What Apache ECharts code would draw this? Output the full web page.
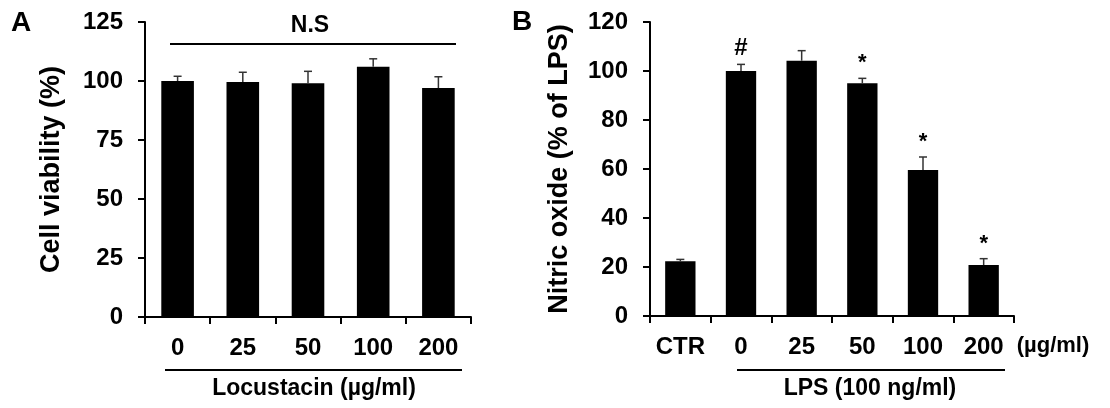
<!DOCTYPE html>
<html>
<head>
<meta charset="utf-8">
<script src="https://cdn.jsdelivr.net/npm/echarts@6/dist/echarts.min.js"></script>
<style>
  html, body { margin: 0; padding: 0; background: #fff; }
  #chart { width: 1110px; height: 408px; }
</style>
</head>
<body>
<div id="chart"></div>
<script>
// panel A - cell viability
const doseA = ["0", "25", "50", "100", "200"];
const viability = [100, 99.6, 99, 106, 97];
const viabilityErr = [2, 4.1, 5.1, 3.4, 4.8];
const ticksA = [0, 25, 50, 75, 100, 125];

// panel B - nitric oxide
const doseB = ["CTR", "0", "25", "50", "100", "200"];
const nitric = [22.3, 100, 104.2, 95, 59.6, 20.8];
const nitricErr = [0.8, 2.7, 4.1, 2, 5.3, 2.6];
const marksB = ["", "#", "", "*", "*", "*"];
const ticksB = [0, 20, 40, 60, 80, 100, 120];

const FONT = "Liberation Sans, Arial, sans-serif";

function errorSeries(xi, yi, vals, errs, marks) {
  return {
    type: "custom",
    xAxisIndex: xi,
    yAxisIndex: yi,
    data: vals.map((v, i) => [i, v, errs[i]]),
    z: 5,
    renderItem: function (params, api) {
      const i = api.value(0);
      const v = api.value(1);
      const e = api.value(2);
      const m = marks ? marks[params.dataIndex] : "";
      const bot = api.coord([i, v]);
      const top = api.coord([i, v + e]);
      const st = { stroke: "#333", lineWidth: 1.5 };
      const kids = [
        { type: "line", shape: { x1: bot[0], y1: bot[1], x2: top[0], y2: top[1] }, style: st },
        { type: "line", shape: { x1: top[0] - 4, y1: top[1], x2: top[0] + 4, y2: top[1] }, style: st }
      ];
      if (m) {
        kids.push({
          type: "text",
          style: {
            text: m, x: top[0], y: top[1] - (m === "#" ? 16 : 15),
            align: "center", verticalAlign: "middle",
            font: "bold " + (m === "#" ? 24 : 22) + "px " + FONT, fill: "#000"
          }
        });
      }
      return { type: "group", children: kids };
    }
  };
}

function catAxis(gi, cats) {
  return {
    type: "category",
    gridIndex: gi,
    data: cats,
    axisLine: { lineStyle: { color: "#000", width: 2 } },
    axisTick: { show: true, length: 7, lineStyle: { color: "#000", width: 2 } },
    axisLabel: { interval: 0, color: "#000", fontSize: 24, fontWeight: "bold", fontFamily: FONT, margin: 19 }
  };
}

function valAxis(gi, ticks, name, gap) {
  return {
    type: "value",
    gridIndex: gi,
    min: ticks[0],
    max: ticks[ticks.length - 1],
    interval: ticks[1] - ticks[0],
    name: name,
    nameLocation: "middle",
    nameGap: gap,
    nameTextStyle: { color: "#000", fontSize: 27, fontWeight: "bold", fontFamily: FONT },
    axisLine: { show: true, lineStyle: { color: "#000", width: 2 } },
    axisTick: { show: true, length: 7, lineStyle: { color: "#000", width: 2 } },
    axisLabel: { color: "#000", fontSize: 24, fontWeight: "bold", fontFamily: FONT, margin: 22 },
    splitLine: { show: false }
  };
}

function txt(x, y, s, size) {
  return {
    type: "text", x: x, y: y,
    style: { text: s, align: "center", verticalAlign: "middle", font: "bold " + size + "px " + FONT, fill: "#000" }
  };
}
function hline(x1, x2, y) {
  return { type: "line", shape: { x1: x1, y1: y, x2: x2, y2: y }, style: { stroke: "#000", lineWidth: 2 } };
}

const chart = echarts.init(document.getElementById("chart"));
chart.setOption({
  animation: false,
  grid: [
    { left: 145, top: 22, width: 326, height: 295 },
    { left: 650, top: 22, width: 364, height: 294 }
  ],
  xAxis: [catAxis(0, doseA), catAxis(1, doseB)],
  yAxis: [
    valAxis(0, ticksA, "Cell viability (%)", 80),
    valAxis(1, ticksB, "Nitric oxide (% of LPS)", 77)
  ],
  series: [
    { type: "bar", xAxisIndex: 0, yAxisIndex: 0, data: viability, barWidth: "50%",
      itemStyle: { color: "#000" } },
    errorSeries(0, 0, viability, viabilityErr, null),
    { type: "bar", xAxisIndex: 1, yAxisIndex: 1, data: nitric, barWidth: "50%",
      itemStyle: { color: "#000" } },
    errorSeries(1, 1, nitric, nitricErr, marksB)
  ],
  graphic: [
    txt(21, 23, "A", 28),
    txt(522, 22, "B", 28),
    txt(310, 26, "N.S", 23),
    hline(170, 456, 44),
    hline(165, 462, 370),
    txt(314, 389, "Locustacin (µg/ml)", 23),
    hline(737, 1005, 370),
    txt(870, 389, "LPS (100 ng/ml)", 23),
    txt(1053, 346, "(µg/ml)", 22)
  ]
});
</script>
</body>
</html>
